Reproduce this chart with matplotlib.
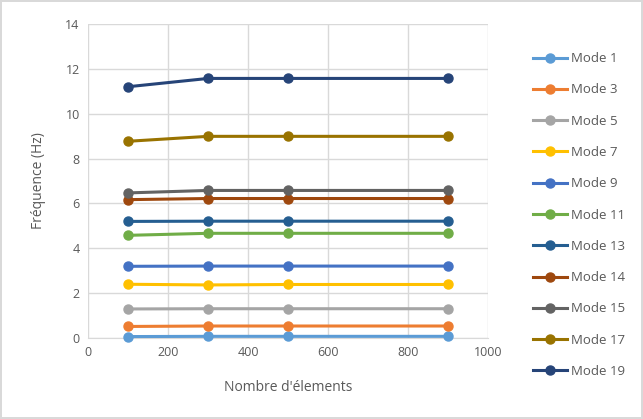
import matplotlib.pyplot as plt

# number of elements in the mesh
elements = [100, 300, 500, 900]

mode_names = ['Mode 1', 'Mode 3', 'Mode 5', 'Mode 7', 'Mode 9', 'Mode 11',
              'Mode 13', 'Mode 14', 'Mode 15', 'Mode 17', 'Mode 19']

mode_1 = [0.07, 0.08, 0.08, 0.08]
mode_3 = [0.52, 0.54, 0.54, 0.54]
mode_5 = [1.3, 1.31, 1.31, 1.31]
mode_7 = [2.4, 2.37, 2.39, 2.39]
mode_9 = [3.2, 3.21, 3.21, 3.21]
mode_11 = [4.58, 4.67, 4.67, 4.67]
mode_13 = [5.2, 5.21, 5.21, 5.21]
mode_14 = [6.17, 6.22, 6.22, 6.22]
mode_15 = [6.47, 6.58, 6.58, 6.58]
mode_17 = [8.77, 8.99, 8.99, 8.99]
mode_19 = [11.2, 11.57, 11.57, 11.57]

series = [mode_1, mode_3, mode_5, mode_7, mode_9, mode_11,
          mode_13, mode_14, mode_15, mode_17, mode_19]

colors = ['#5B9BD5', '#ED7D31', '#A5A5A5', '#FFC000', '#4472C4', '#70AD47',
          '#255E91', '#9E480E', '#636363', '#997300', '#264478']

plt.rcParams['font.family'] = ['Open Sans', 'DejaVu Sans']

fig = plt.figure(figsize=(6.43, 4.19), dpi=100)
fig.patch.set_edgecolor('#D9D9D9')
fig.patch.set_linewidth(1.5)
ax = fig.add_axes([0.137, 0.193, 0.622, 0.750])

for name, vals, c in zip(mode_names, series, colors):
    ax.plot(elements, vals, color=c, linewidth=2.2, marker='o', markersize=6.5,
            label=name, clip_on=False, zorder=3)

ax.set_xlim(0, 1000)
ax.set_ylim(0, 14)
ax.set_xticks(range(0, 1001, 200))
ax.set_yticks(range(0, 15, 2))
ax.grid(True, color='#D9D9D9', linewidth=1)
ax.set_axisbelow(True)
for side in ['top', 'right', 'left']:
    ax.spines[side].set_visible(False)
ax.spines['bottom'].set_color('#D9D9D9')
ax.tick_params(length=0, labelsize=9, colors='#595959', pad=6)

ax.set_xlabel("Nombre d'élements", fontsize=10, color='#595959', labelpad=15)
ax.set_ylabel('Fréquence (Hz)', fontsize=10, color='#595959', labelpad=14)

leg = ax.legend(loc='upper left', bbox_to_anchor=(0.82, 0.888),
                bbox_transform=fig.transFigure, frameon=False,
                fontsize=9.5, handlelength=2.6, handletextpad=0.3,
                labelspacing=1.385, borderaxespad=0)
for t in leg.get_texts():
    t.set_color('#595959')

fig.savefig('out.png', dpi=100)
